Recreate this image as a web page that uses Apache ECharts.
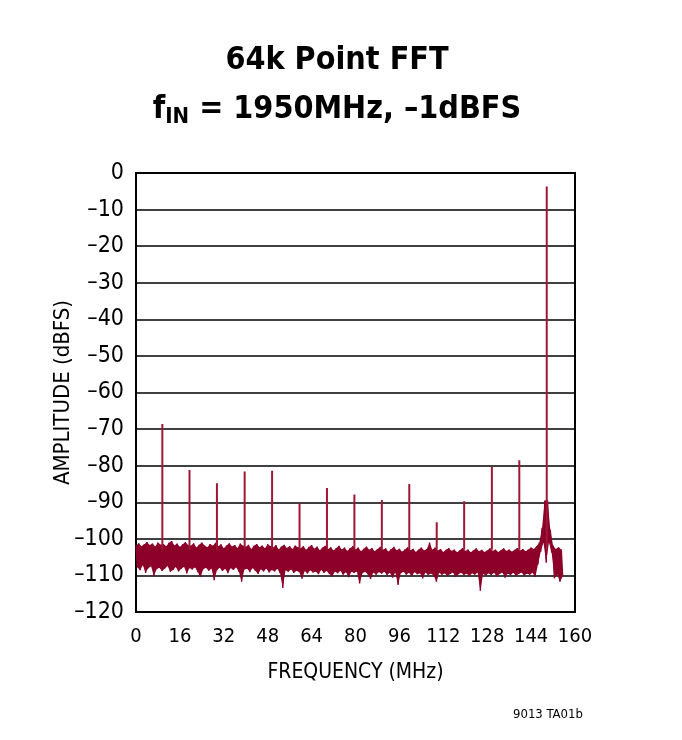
<!DOCTYPE html>
<html>
<head>
<meta charset="utf-8">
<script src="https://cdn.jsdelivr.net/npm/echarts@6/dist/echarts.min.js"></script>
<style>
html,body{margin:0;padding:0;background:#fff;}
#chart{width:682px;height:740px;}
</style>
</head>
<body>
<div id="chart"></div>
<script>
// ---- data ----
var xTicks = [0, 16, 32, 48, 64, 80, 96, 112, 128, 144, 160];
var yTickLabels = ['–120','–110','–100','–90','–80','–70','–60','–50','–40','–30','–20','–10','0'];

// spurs / fundamental (MHz, dBFS)
var spurFreq  = [9.6, 19.5, 29.5, 39.6, 49.6, 59.6, 69.6, 79.6, 89.6, 99.6, 109.6, 119.6, 129.7, 139.7, 149.7];
var spurLevel = [-68.6, -81.2, -84.8, -81.6, -81.4, -90.3, -86.1, -87.9, -89.4, -85.0, -95.5, -89.7, -80.3, -78.5, -3.7];
var spurBase  = -103;

// noise floor: upper excursions at f = 0,1,2,...,155 MHz
var noiseHigh = [
-101.8,-101.2,-102.0,-101.5,-100.9,-101.7,-101.3,-102.1,-101.0,-101.6,
-101.4,-102.0,-101.1,-100.6,-101.8,-101.3,-102.2,-101.5,-100.9,-101.7,
-101.9,-101.2,-102.4,-101.6,-101.0,-101.8,-102.3,-101.4,-101.9,-101.1,
-102.0,-101.5,-102.6,-101.8,-101.2,-102.1,-101.7,-102.5,-101.3,-101.9,
-102.2,-101.6,-102.8,-101.9,-101.4,-102.3,-101.8,-102.6,-101.5,-102.0,
-102.4,-101.7,-102.9,-102.1,-101.6,-102.5,-102.0,-102.8,-101.8,-102.3,
-102.6,-102.0,-103.0,-102.2,-101.7,-102.7,-102.1,-103.1,-102.4,-101.9,
-102.8,-102.3,-103.2,-102.5,-101.9,-102.9,-102.4,-103.3,-102.6,-102.0,
-102.9,-102.4,-103.4,-102.7,-102.1,-103.0,-102.5,-103.4,-102.8,-102.2,
-103.0,-102.6,-103.5,-102.8,-102.2,-103.1,-102.7,-103.5,-102.9,-102.3,
-103.1,-102.7,-103.6,-102.9,-102.4,-103.2,-102.8,-101.0,-103.0,-102.4,
-103.2,-102.8,-103.6,-103.0,-102.5,-103.3,-102.9,-103.7,-103.1,-102.5,
-103.3,-102.9,-103.7,-103.1,-102.6,-103.4,-103.0,-103.6,-103.2,-102.6,
-103.3,-102.9,-103.6,-103.1,-102.6,-103.3,-102.9,-103.5,-103.0,-102.5,
-103.2,-102.8,-103.4,-102.9,-102.4,-102.8,-102.0,-101.0,-97.0,-89.5,
-89.5,-97.5,-101.8,-102.8,-102.3,-102.9
];
// noise floor: lower excursions at f = 0.5,1.5,...,155.5 MHz
var noiseLow = [
-107.8,-108.6,-107.2,-109.3,-108.0,-107.5,-110.2,-108.3,-107.9,-108.8,
-108.1,-107.4,-109.0,-108.5,-107.7,-108.9,-108.2,-107.6,-109.5,-108.0,
-108.4,-107.8,-109.1,-110.4,-108.3,-107.9,-108.7,-108.1,-111.3,-108.6,
-107.9,-108.8,-108.2,-109.4,-108.0,-108.5,-107.8,-109.0,-111.7,-108.4,
-108.2,-109.1,-108.0,-108.7,-109.6,-108.3,-108.9,-108.1,-109.2,-108.5,
-108.9,-108.2,-109.4,-113.4,-108.6,-109.0,-108.4,-109.3,-108.7,-109.1,
-110.9,-108.8,-109.5,-108.6,-109.2,-108.9,-109.7,-108.5,-109.3,-108.8,
-109.6,-110.3,-108.9,-109.4,-108.7,-109.8,-109.1,-110.5,-109.0,-109.3,
-108.9,-112.2,-109.4,-109.0,-109.7,-111.0,-109.2,-109.8,-109.1,-109.5,
-109.0,-109.9,-109.3,-110.6,-109.2,-112.6,-109.4,-109.0,-109.8,-109.3,
-110.2,-109.1,-109.7,-109.4,-110.8,-109.2,-109.9,-109.5,-110.0,-111.7,
-109.3,-109.8,-109.4,-110.1,-109.6,-109.2,-110.4,-109.7,-109.3,-109.9,
-109.5,-110.2,-109.4,-109.8,-109.2,-114.2,-109.6,-110.0,-109.4,-109.9,
-109.3,-110.3,-109.6,-109.2,-110.6,-109.5,-109.9,-109.3,-110.1,-109.6,
-109.2,-110.0,-109.5,-109.8,-109.3,-110.4,-107.0,-103.5,-101.0,-106.5,
-101.0,-103.8,-110.8,-109.7,-111.7,-110.3
];

// ---- build series data from arrays ----
var trace = [];
for (var i = 0; i < noiseHigh.length; i++) {
  trace.push([i, noiseHigh[i]]);
  trace.push([i + 0.5, noiseLow[i]]);
}
var spurData = [];
for (var j = 0; j < spurFreq.length; j++) {
  spurData.push([spurFreq[j], spurBase]);
  spurData.push([spurFreq[j], spurLevel[j]]);
  spurData.push([spurFreq[j], '-']);
}

var FONT = "'DejaVu Sans Condensed', 'DejaVu Sans', sans-serif";
var RED = '#8c0029';

var chart = echarts.init(document.getElementById('chart'), null, {renderer: 'canvas'});
chart.setOption({
  animation: false,
  backgroundColor: '#ffffff',
  title: [{
    text: '64k Point FFT\n{a|f}{b|IN}{a| = 1950MHz, –1dBFS}',
    left: 332,
    textAlign: 'center',
    top: 31,
    textStyle: {
      fontFamily: FONT, fontWeight: 'bold', fontSize: 32, color: '#000', lineHeight: 49,
      rich: {
        a: {fontFamily: FONT, fontWeight: 'bold', fontSize: 32, color: '#000', lineHeight: 49},
        b: {fontFamily: FONT, fontWeight: 'bold', fontSize: 22, color: '#000', padding: [16, 0, 0, 0]}
      }
    }
  }, {
    text: '9013 TA01b',
    left: 508,
    top: 703,
    textStyle: {fontFamily: FONT, fontWeight: 'normal', fontSize: 13, color: '#000'}
  }],
  grid: {
    left: 136, right: 107, top: 173, bottom: 128,
    show: true, borderColor: '#000', borderWidth: 2, backgroundColor: 'transparent'
  },
  xAxis: {
    type: 'value', min: 0, max: 160, interval: 16,
    axisLine: {show: true, onZero: false, lineStyle: {color: '#000', width: 2}},
    axisTick: {show: false},
    splitLine: {show: false},
    axisLabel: {fontFamily: FONT, fontSize: 20, color: '#000', margin: 15,
      formatter: function (v) { var k = xTicks.indexOf(v); return k >= 0 ? String(xTicks[k]) : ''; }},
    name: 'FREQUENCY (MHz)', nameLocation: 'middle', nameGap: 50,
    nameTextStyle: {fontFamily: FONT, fontSize: 21, color: '#000'}
  },
  yAxis: {
    type: 'value', min: -120, max: 0, interval: 10,
    axisLine: {show: true, onZero: false, lineStyle: {color: '#000', width: 2}},
    axisTick: {show: false},
    splitLine: {show: true, lineStyle: {color: '#000', width: 1.5}},
    axisLabel: {fontFamily: FONT, fontSize: 23, color: '#000', margin: 12,
      formatter: function (v) { return yTickLabels[Math.round((v + 120) / 10)]; }},
    name: 'AMPLITUDE (dBFS)', nameLocation: 'middle', nameGap: 62, nameMoveOverlap: false,
    nameTextStyle: {fontFamily: FONT, fontSize: 22, color: '#000'}
  },
  series: [{
    type: 'custom',
    data: [[0, 0]],
    z: 2,
    silent: true,
    renderItem: function (params, api) {
      var pts = [];
      for (var a = 0; a < noiseHigh.length; a++) pts.push(api.coord([a, noiseHigh[a]]));
      for (var b = noiseLow.length - 1; b >= 0; b--) pts.push(api.coord([b + 0.5, noiseLow[b]]));
      return {type: 'polygon', shape: {points: pts}, style: {fill: RED, stroke: null}};
    }
  }, {
    type: 'line', data: trace, showSymbol: false, symbol: 'none',
    lineStyle: {color: RED, width: 1.4}, z: 3
  }, {
    type: 'line', data: spurData, showSymbol: false, symbol: 'none', connectNulls: false,
    lineStyle: {color: '#9e1836', width: 2}, z: 4
  }]
});
</script>
</body>
</html>
